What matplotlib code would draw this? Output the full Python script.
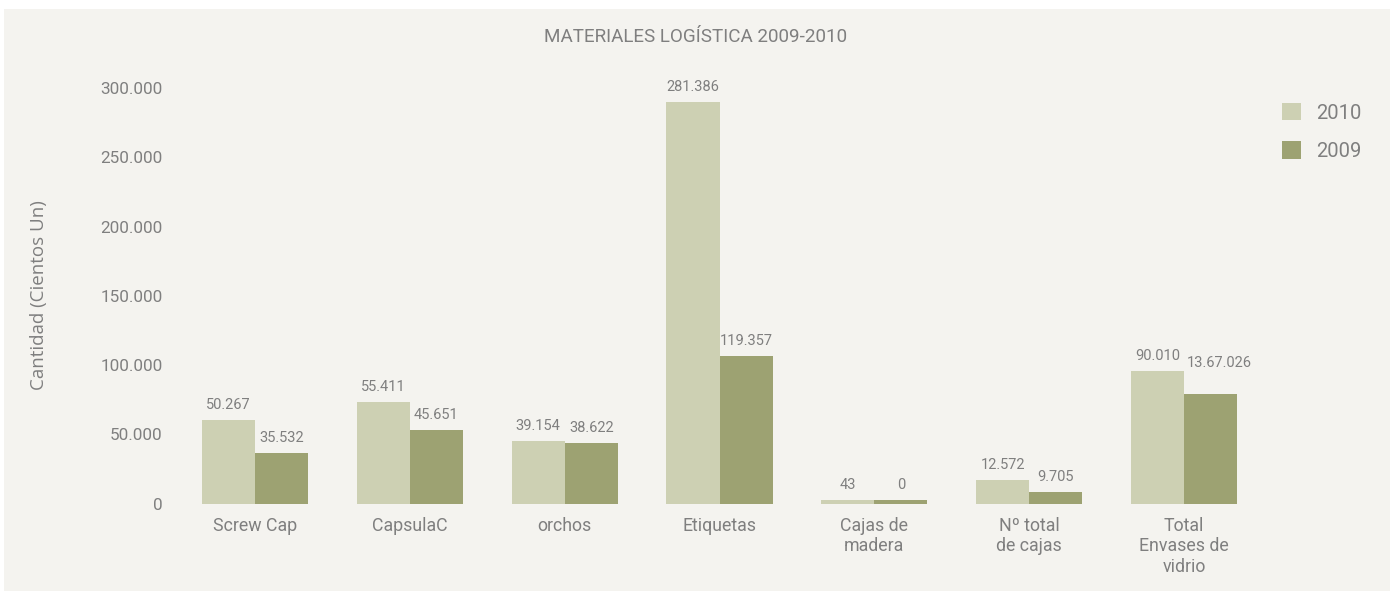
import matplotlib
matplotlib.use("Agg")
import matplotlib.pyplot as plt
from matplotlib.patches import Rectangle
from matplotlib.ticker import FuncFormatter
import numpy as np

# ---- data (bar heights as drawn in the reference, labels as printed) ----
categories = ["Screw Cap", "CapsulaC", "orchos", "Etiquetas",
              "Cajas de\nmadera", "Nº total\nde cajas", "Total\nEnvases de\nvidrio"]
values_2010 = [60200, 73200, 45000, 290000, 2400, 16850, 95600]
values_2009 = [36300, 53000, 43600, 106400, 2400, 8200, 79000]
labels_2010 = ["50.267", "55.411", "39.154", "281.386", "43", "12.572", "90.010"]
labels_2009 = ["35.532", "45.651", "38.622", "119.357", "0", "9.705", "13.67.026"]
series_names = ["2010", "2009"]
yticks = [0, 50000, 100000, 150000, 200000, 250000, 300000]

# ---- style ----
C2010 = "#CDD0B3"
C2009 = "#9DA272"
BG = "#F4F3EF"
TXT = "#7F7F7F"
FONT = ["Roboto", "DejaVu Sans"]

W, H = 1392, 592
fig = plt.figure(figsize=(W / 100, H / 100), dpi=100)
fig.patch.set_facecolor("white")
fig.patches.append(Rectangle((4 / W, 1 / H), 1386 / W, 582 / H,
                             transform=fig.transFigure, facecolor=BG,
                             edgecolor="none", zorder=-10))

# axes geometry (pixels)
ax_left, ax_right = 175, 1265
y0_px = 88.5                      # pixel from bottom for value 0
px_per_unit = 415.5 / 300000
ymax = 310000
ax = fig.add_axes([ax_left / W, y0_px / H, (ax_right - ax_left) / W,
                   ymax * px_per_unit / H])
ax.set_facecolor("none")

x = np.arange(len(categories))
bw = 0.343
b1 = ax.bar(x - bw / 2, values_2010, bw, color=C2010, label=series_names[0])
b2 = ax.bar(x + bw / 2, values_2009, bw, color=C2009, label=series_names[1])

# value labels
extra = {("2009", 6): (9, 16)}  # pixel shift for the odd label of the last group
for name, bars, labs in (("2010", b1, labels_2010), ("2009", b2, labels_2009)):
    for i, (rect, lab) in enumerate(zip(bars, labs)):
        dx, dy = extra.get((name, i), (0, 0))
        ax.annotate(lab, (rect.get_x() + rect.get_width() / 2, rect.get_height()),
                    xytext=((0 + dx) * 0.72, (11 + dy) * 0.72), textcoords="offset points",
                    ha="center", va="baseline", fontsize=10.5, color=TXT,
                    family=FONT, annotation_clip=False)

# x limits so that category 0 sits at px 255 and category 6 at px 1184
scale = (1184 - 255) / 6
ax.set_xlim(-(255 - ax_left) / scale, 6 + (ax_right - 1184) / scale)
ax.set_ylim(0, ymax)

ax.set_xticks(x)
ax.set_xticklabels(categories, family=FONT, fontsize=12.8, color=TXT, linespacing=1.2)
ax.set_yticks(yticks)
ax.yaxis.set_major_formatter(FuncFormatter(lambda v, p: f"{int(v):,}".replace(",", ".")))
for t in ax.get_yticklabels():
    t.set_family(FONT)
    t.set_fontsize(12.3)
    t.set_color(TXT)
ax.tick_params(axis="both", length=0)
ax.tick_params(axis="y", pad=9)
ax.tick_params(axis="x", pad=9.5)
for s in ax.spines.values():
    s.set_visible(False)

ax.set_ylabel("Cantidad (Cientos Un)", family=["Open Sans", "DejaVu Sans"],
              fontsize=13.5, color=TXT)
ax.yaxis.set_label_coords((48 - ax_left) / (ax_right - ax_left), (503.5 - 295) / (ymax * px_per_unit))

fig.text(696 / W, 1 - 37 / H, "MATERIALES LOGÍSTICA 2009-2010", ha="center", va="center",
         family=FONT, fontsize=13.6, color=TXT)

leg = fig.legend(handles=[b1, b2], labels=series_names, loc="upper left",
                 bbox_to_anchor=(1266 / W, 1 - 87 / H), frameon=False,
                 prop={"family": FONT, "size": 14.5}, labelcolor=TXT,
                 handlelength=0.95, handleheight=0.95, handletextpad=0.75,
                 labelspacing=0.92, borderpad=0.3)

fig.savefig("out.png", dpi=100, facecolor=fig.get_facecolor())
